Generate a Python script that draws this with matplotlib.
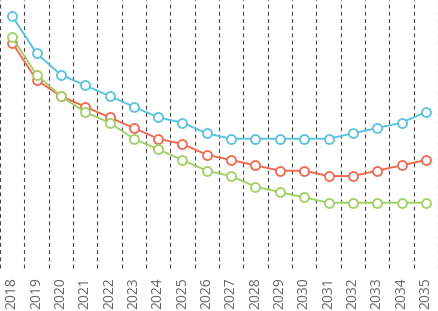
import numpy as np
import matplotlib
matplotlib.use("Agg")
import matplotlib.pyplot as plt

# Data (no y axis shown, arbitrary units)
years = [str(y) for y in range(2018, 2036)]
blue_vals = [47, 40, 36, 34, 32, 30, 28, 27, 25, 24, 24, 24, 24, 24, 25, 26, 27, 29]
red_vals = [42, 35, 32, 30, 28, 26, 24, 23, 21, 20, 19, 18, 18, 17, 17, 18, 19, 20]
green_vals = [43, 36, 32, 29, 27, 24, 22, 20, 18, 17, 15, 14, 13, 12, 12, 12, 12, 12]

series = [
    (blue_vals, "#5BC3E0"),
    (red_vals, "#EE6B52"),
    (green_vals, "#A3CF67"),
]

plt.rcParams["font.family"] = ["Open Sans", "DejaVu Sans"]

fig = plt.figure(figsize=(4.38, 3.11), dpi=100)
ax = fig.add_axes([0, 0.138, 1, 0.862])

x = np.arange(len(years))
for vals, color in series:
    ax.plot(x, vals, color=color, lw=1.4, marker="o", ms=6.5,
            mfc="white", mec=color, mew=1.3, zorder=3)

ax.set_xlim(-0.5, len(years) - 0.5)
ax.set_ylim(-0.25, 50)

# category boundaries as dashed vertical lines
for b in np.arange(-0.5, len(years), 1.0):
    ax.axvline(b, color="#444444", lw=0.8, ls=(0, (3.5, 3)), zorder=1, clip_on=False)

ax.set_xticks(x)
ax.set_xticklabels(years, rotation=90, fontsize=10, color="#666666")
ax.tick_params(axis="x", length=0, pad=6.5)
ax.set_yticks([])
for s in ax.spines.values():
    s.set_visible(False)

fig.savefig("out.png", dpi=100)
